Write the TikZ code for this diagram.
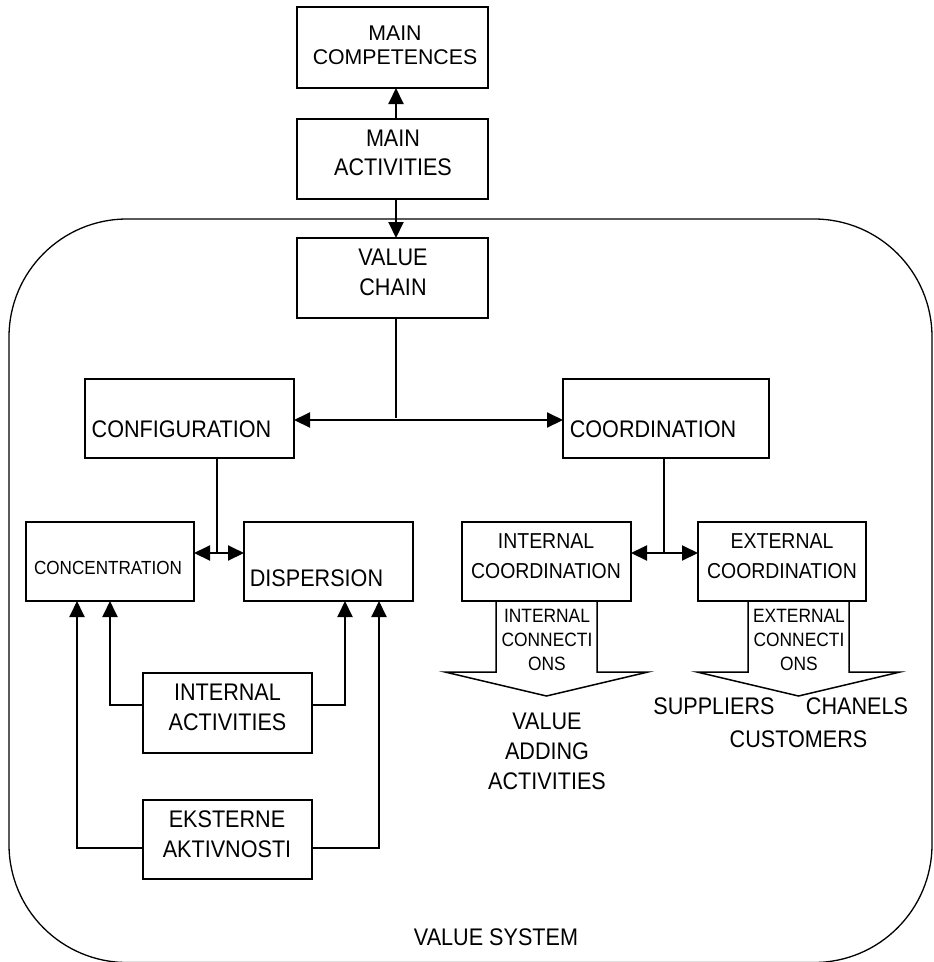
\documentclass[tikz,border=0pt]{standalone}
\usepackage{fontspec}
\setmainfont{Liberation Sans}
\newfontfamily\condsans[FakeStretch=0.9]{Liberation Sans}
\usetikzlibrary{arrows.meta}

\newcommand\txtlarge{\condsans\fontsize{24}{30}\selectfont}
\newcommand\txtmid{\condsans\fontsize{21.6}{30}\selectfont}
\newcommand\txtsmall{\condsans\fontsize{19.3}{24.3}\selectfont}
\newcommand\txttop{\fontsize{21.3}{24.3}\selectfont}

\tikzset{
  box/.style={draw, line width=1.6pt, inner sep=0pt, outer sep=0pt},
  txt/.style={inner sep=0pt, outer sep=0pt, align=center, font=\txtlarge},
  link/.style={line width=2pt},
  arr/.style={line width=2pt, -{Triangle[length=16pt,width=15pt]}},
  dbl/.style={line width=2pt, {Triangle[length=16pt,width=15pt]}-{Triangle[length=16pt,width=15pt]}},
  blockarrow/.style={line width=1.5pt, line join=miter},
}

\begin{document}
\begin{tikzpicture}[x=1pt, y=-1pt]
\useasboundingbox (0,0) rectangle (934,962);
\fill[white] (0,0) rectangle (934,962);

% value system frame
\draw[line width=1.3pt, rounded corners=118pt] (9,219) rectangle (932,962.5);
\node[txt] (tvs) at (496,937) {VALUE SYSTEM};

% boxes
\node[box, minimum width=191pt, minimum height=81pt] (mc) at (392.5,47.5) {};
\node[box, minimum width=191pt, minimum height=80pt] (ma) at (392.5,159) {};
\node[box, minimum width=191pt, minimum height=80pt] (vc) at (392.5,278) {};
\node[box, minimum width=209pt, minimum height=79pt] (conf) at (189.5,418.5) {};
\node[box, minimum width=206pt, minimum height=79pt] (coord) at (666,418.5) {};
\node[box, minimum width=168pt, minimum height=79pt] (conc) at (110,561.5) {};
\node[box, minimum width=169pt, minimum height=79pt] (disp) at (328.5,561.5) {};
\node[box, minimum width=169pt, minimum height=79pt] (icoord) at (546.5,561.5) {};
\node[box, minimum width=168pt, minimum height=79pt] (ecoord) at (782,561.5) {};
\node[box, minimum width=169pt, minimum height=80pt] (ia) at (227.5,713) {};
\node[box, minimum width=169pt, minimum height=79pt] (ea) at (227.5,839.5) {};

% box texts
\node[txt, font=\txttop] (tmc) at (395,45) {MAIN\\COMPETENCES};
\node[txt, font=\condsans\fontsize{24}{29}\selectfont] (tma) at (393,153.3) {MAIN\\ACTIVITIES};
\node[txt] (tvc) at (393,272.5) {VALUE\\CHAIN};
\node[txt] (tconf) at (181.5,429) {CONFIGURATION};
\node[txt] (tcoord) at (653,429) {COORDINATION};
\node[txt, font=\condsans\fontsize{19}{24}\selectfont] (tconc) at (108,567.5) {CONCENTRATION};
\node[txt] (tdisp) at (316.5,578.5) {DISPERSION};
\node[txt, font=\txtmid] (ticoord) at (546,555.7) {INTERNAL\\COORDINATION};
\node[txt, font=\txtmid] (tecoord) at (782,555.7) {EXTERNAL\\COORDINATION};
\node[txt] (tia) at (227.5,707) {INTERNAL\\ACTIVITIES};
\node[txt] (tea) at (227,834.5) {EKSTERNE\\AKTIVNOSTI};

% top chain
\draw[arr] ([xshift=3.5pt]ma.north) -- ([xshift=3.5pt]mc.south);
\draw[arr] ([xshift=3.5pt]ma.south) -- ([xshift=3.5pt]vc.north);

% value chain split
\coordinate (j1) at (396,420);
\draw[link] ([xshift=3.5pt]vc.south) -- ([yshift=2pt]j1);
\draw[dbl] (conf.east |- j1) -- (coord.west |- j1);

% configuration split
\coordinate (j2) at (217,553);
\draw[link] (conf.south -| j2) -- (j2);
\draw[dbl] (conc.east |- j2) -- (disp.west |- j2);

% coordination split
\coordinate (j3) at (664,553);
\draw[link] (coord.south -| j3) -- (j3);
\draw[dbl] (icoord.east |- j3) -- (ecoord.west |- j3);

% activities feeding concentration / dispersion
\draw[arr] ([yshift=8pt]ia.west) -| (conc.south);
\draw[arr] ([yshift=8pt]ia.east) -| ([xshift=16.5pt]disp.south);
\draw[arr] ([yshift=-8.5pt]ea.west) -| ([xshift=-33pt]conc.south);
\draw[arr] ([yshift=-8.5pt]ea.east) -| ([xshift=50.5pt]disp.south);

% block arrows under the coordination boxes
\coordinate (ib) at (546.5,601);
\coordinate (eb) at (798.5,601);
\draw[blockarrow] ([xshift=-50.5pt]ib) -- ++(0,71) -- ++(-51,0) -- ++(101.5,24)
  -- ++(101.5,-24) -- ++(-51,0) -- ++(0,-71);
\draw[blockarrow] ([xshift=-50.5pt]eb) -- ++(0,71) -- ++(-51,0) -- ++(101.5,24)
  -- ++(101.5,-24) -- ++(-51,0) -- ++(0,-71);

\node[txt, font=\txtsmall] (tic) at (547,640) {INTERNAL\\CONNECTI\\ONS};
\node[txt, font=\txtsmall] (tec) at (799,640) {EXTERNAL\\CONNECTI\\ONS};

% outcomes
\node[txt] (tvaa) at (547,751.8) {VALUE\\ADDING\\ACTIVITIES};
\node[txt] (tsup) at (714,706.5) {SUPPLIERS};
\node[txt] (tchan) at (857,706.5) {CHANELS};
\node[txt] (tcust) at (798.5,739) {CUSTOMERS};
\end{tikzpicture}
\end{document}
